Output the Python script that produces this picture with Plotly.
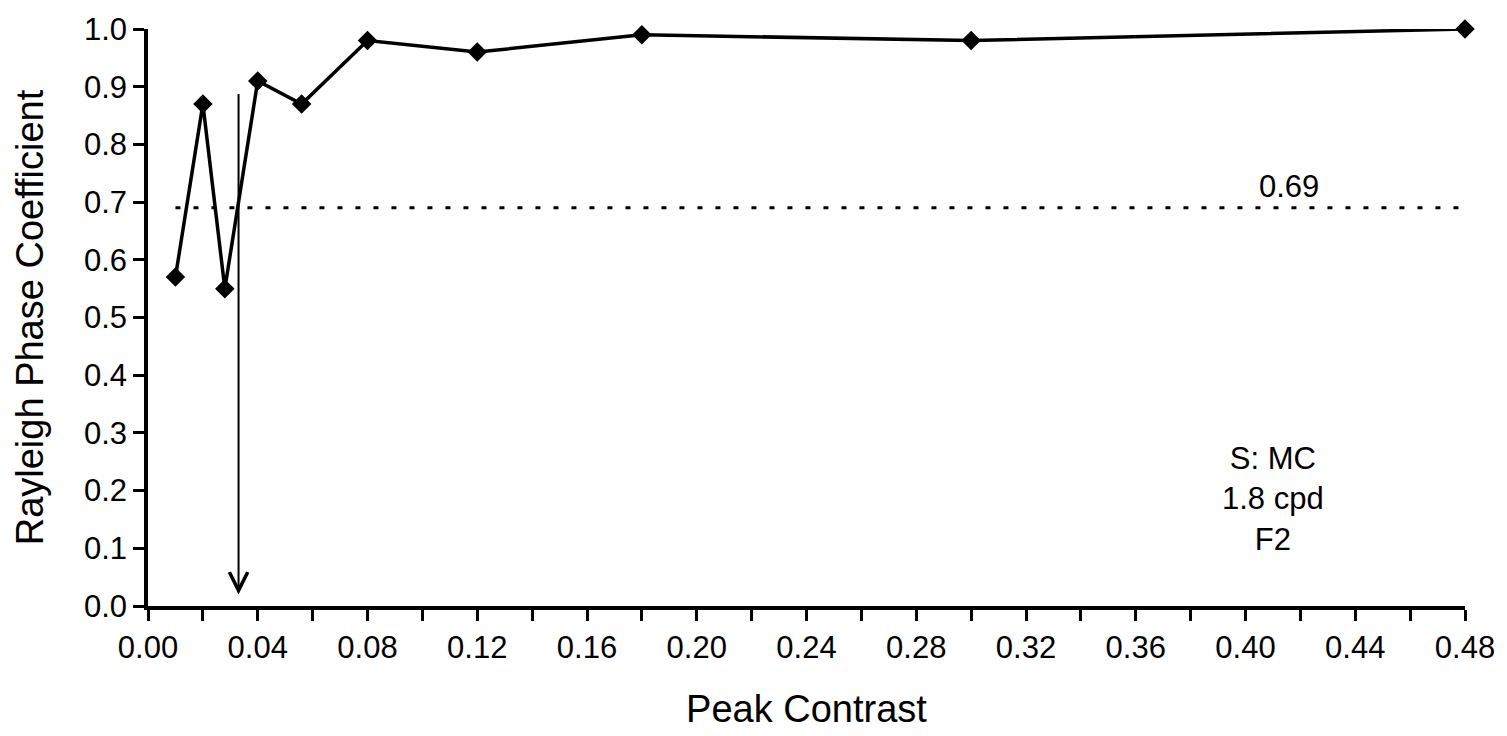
import plotly.graph_objects as go

# Data
contrast = [0.01, 0.02, 0.028, 0.04, 0.056, 0.08, 0.12, 0.18, 0.30, 0.48]
rayleigh = [0.57, 0.87, 0.55, 0.91, 0.87, 0.98, 0.96, 0.99, 0.98, 1.00]
criterion = 0.69
threshold_contrast = 0.033
arrow_top = 0.89
arrow_tip = 0.02
x_ticks = [0.00, 0.04, 0.08, 0.12, 0.16, 0.20, 0.24, 0.28, 0.32, 0.36, 0.40, 0.44, 0.48]
x_tick_labels = ["%.2f" % v for v in x_ticks]
y_ticks = [0.0, 0.1, 0.2, 0.3, 0.4, 0.5, 0.6, 0.7, 0.8, 0.9, 1.0]
y_tick_labels = ["%.1f" % v for v in y_ticks]
info_text = "S: MC<br>1.8 cpd<br>F2"

FONT = "Liberation Sans, Arial, sans-serif"

fig = go.Figure()

# criterion dotted line
fig.add_trace(go.Scatter(
    x=[contrast[0], contrast[-1]], y=[criterion, criterion],
    mode="lines", line=dict(color="black", width=3, dash="5px,13px"),
    hoverinfo="skip", showlegend=False, cliponaxis=False))

# data series
fig.add_trace(go.Scatter(
    x=contrast, y=rayleigh, mode="lines+markers",
    line=dict(color="black", width=3.5),
    marker=dict(symbol="diamond", size=15, color="black"),
    showlegend=False, cliponaxis=False))

fig.add_annotation(
    x=threshold_contrast, y=arrow_tip, ax=threshold_contrast, ay=arrow_top,
    xref="x", yref="y", axref="x", ayref="y",
    showarrow=True, arrowhead=5, arrowsize=1.8, arrowwidth=2, arrowcolor="black",
    text="")

fig.add_annotation(x=0.416, y=criterion, xref="x", yref="y", text="0.69",
                   showarrow=False, yanchor="bottom", yshift=2,
                   font=dict(family=FONT, size=31, color="black"))

fig.add_annotation(x=0.41, y=0.186, xref="x", yref="y", text=info_text,
                   showarrow=False, align="center",
                   font=dict(family=FONT, size=31, color="black"))

fig.update_xaxes(
    range=[0, 0.48], tickvals=x_ticks, ticktext=x_tick_labels,
    showline=True, linecolor="black", linewidth=3.5,
    ticks="outside", ticklen=11, tickwidth=3, tickcolor="black",
    minor=dict(dtick=0.02, tick0=0, ticks="outside", ticklen=11, tickwidth=3, tickcolor="black"),
    showgrid=False, zeroline=False,
    tickfont=dict(family=FONT, size=31, color="black"),
    title=dict(text="Peak Contrast", font=dict(family=FONT, size=38, color="black"), standoff=32),
)
fig.update_yaxes(
    range=[0, 1.0], tickvals=y_ticks, ticktext=y_tick_labels,
    showline=True, linecolor="black", linewidth=3.5,
    ticks="outside", ticklen=11, tickwidth=3, tickcolor="black",
    showgrid=False, zeroline=False,
    tickfont=dict(family=FONT, size=31, color="black"),
    title=dict(text="Rayleigh Phase Coefficient", font=dict(family=FONT, size=38, color="black"), standoff=30),
)

fig.update_layout(
    width=1507, height=736,
    margin=dict(l=148, r=39, t=25, b=125),
    paper_bgcolor="white", plot_bgcolor="white",
    showlegend=False,
)

fig.write_html("out.html", include_plotlyjs=True, config={"displayModeBar": False})
